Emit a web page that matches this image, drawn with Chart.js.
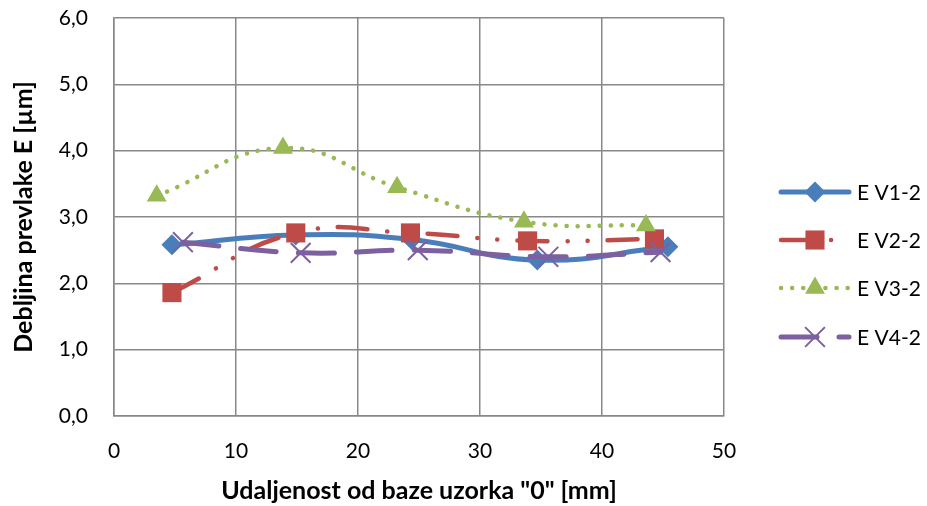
<!DOCTYPE html>
<html><head><meta charset="utf-8">
<script src="https://cdn.jsdelivr.net/npm/chart.js@4/dist/chart.umd.min.js"></script>
<style>html,body{margin:0;padding:0;background:#fff}#wrap{width:927px;height:506px}</style>
</head><body><div id="wrap"><canvas id="c" width="927" height="506"></canvas></div>
<script>
const seriesNames = ['E V1-2', 'E V2-2', 'E V3-2', 'E V4-2'];
const v1x = [4.75, 14.9, 24.4, 34.7, 45.4];
const v1y = [2.58, 2.73, 2.66, 2.35, 2.55];
const v2x = [4.75, 14.9, 24.3, 33.9, 44.3];
const v2y = [1.86, 2.76, 2.76, 2.64, 2.67];
const v3x = [3.5, 13.85, 23.2, 33.6, 43.6];
const v3y = [3.32, 4.04, 3.45, 2.93, 2.87];
const v4x = [5.65, 15.3, 24.9, 35.6, 44.8];
const v4y = [2.62, 2.46, 2.50, 2.40, 2.47];
const xTicks = [0, 10, 20, 30, 40, 50];
const yTickLabels = ['0,0', '1,0', '2,0', '3,0', '4,0', '5,0', '6,0'];
const xTitle = 'Udaljenost od baze uzorka "0" [mm]';
const yTitle = 'Debljina prevlake E [µm]';

const pts = (xs, ys) => xs.map((x, i) => ({x, y: ys[i]}));
const FONT = 'Lato, "Open Sans", sans-serif';

const styles = [
  {color: '#4A7EBB', width: 5, dash: [], point: 'rectRot', r: 10.5},
  {color: '#BE4B48', width: 4.5, dash: [30, 20, 0.1, 20, 0.1, 20], point: 'rect', r: 13.5},
  {color: '#98B954', width: 4.5, dash: [0.1, 11], point: 'triangle', r: 11.5},
  {color: '#7D60A0', width: 5, dash: [36, 22], point: 'crossRot', r: 14}
];
const xs = [v1x, v2x, v3x, v4x], ys = [v1y, v2y, v3y, v4y];

const datasets = seriesNames.map((name, i) => ({
  label: name,
  data: pts(xs[i], ys[i]),
  order: 4 - i,
  showLine: true,
  borderColor: styles[i].color,
  backgroundColor: styles[i].color,
  borderWidth: styles[i].width,
  borderDash: styles[i].dash,
  borderCapStyle: 'round',
  borderJoinStyle: 'round',
  tension: 0.45,
  pointStyle: styles[i].point,
  pointRadius: styles[i].r,
  pointHoverRadius: styles[i].r,
  pointBorderWidth: styles[i].point === 'crossRot' ? 2 : 0,
  pointBorderColor: styles[i].color,
  pointBackgroundColor: styles[i].color
}));

function drawMarker(ctx, type, x, y, r, color) {
  ctx.save();
  ctx.fillStyle = color; ctx.strokeStyle = color; ctx.setLineDash([]);
  ctx.beginPath();
  if (type === 'rectRot') {
    ctx.moveTo(x, y - r); ctx.lineTo(x + r, y); ctx.lineTo(x, y + r); ctx.lineTo(x - r, y); ctx.closePath(); ctx.fill();
  } else if (type === 'rect') {
    const s = Math.SQRT1_2 * r; ctx.rect(x - s, y - s, 2 * s, 2 * s); ctx.fill();
  } else if (type === 'triangle') {
    ctx.moveTo(x, y - r); ctx.lineTo(x + r * 0.866, y + r / 2); ctx.lineTo(x - r * 0.866, y + r / 2); ctx.closePath(); ctx.fill();
  } else if (type === 'crossRot') {
    const d = r * Math.SQRT1_2; ctx.lineWidth = 2;
    ctx.moveTo(x - d, y - d); ctx.lineTo(x + d, y + d); ctx.moveTo(x + d, y - d); ctx.lineTo(x - d, y + d); ctx.stroke();
  }
  ctx.restore();
}

const legendPlugin = {
  id: 'sideLegend',
  afterDraw(chart) {
    const ctx = chart.ctx;
    const ys0 = [192, 240, 288, 337];
    seriesNames.forEach((name, i) => {
      const st = styles[i], y = ys0[i];
      ctx.save();
      ctx.strokeStyle = st.color; ctx.lineWidth = st.width; ctx.lineCap = 'round';
      ctx.setLineDash(st.dash);
      ctx.beginPath(); ctx.moveTo(781, y); ctx.lineTo(849, y); ctx.stroke();
      ctx.restore();
      drawMarker(ctx, st.point, 815, y, st.r, st.color);
      ctx.save();
      ctx.fillStyle = '#000'; ctx.font = '21px ' + FONT; ctx.textBaseline = 'middle'; ctx.textAlign = 'left';
      ctx.fillText(name, 857, y + 1);
      ctx.restore();
    });
  }
};

new Chart(document.getElementById('c'), {
  type: 'scatter',
  data: {datasets},
  options: {
    responsive: false,
    animation: false,
    events: [],
    layout: {padding: {left: 0, right: 203, top: 18, bottom: 0}},
    plugins: {legend: {display: false}, tooltip: {enabled: false}},
    scales: {
      x: {
        type: 'linear', min: 0, max: 50,
        afterBuildTicks: s => { s.ticks = xTicks.map(v => ({value: v})); },
        afterFit: s => { s.height = 90; s.paddingLeft = 0; s.paddingRight = 0; },
        grid: {color: '#888', lineWidth: 1.5, drawTicks: false},
        border: {color: '#888', width: 1.5},
        ticks: {color: '#000', font: {family: FONT, size: 21}, padding: 23, maxRotation: 0},
        title: {display: true, text: xTitle, color: '#000', font: {family: FONT, size: 25, weight: 'bold'}, padding: {top: 4, bottom: 0}}
      },
      y: {
        type: 'linear', min: 0, max: 6,
        ticks: {stepSize: 1, color: '#000', font: {family: FONT, size: 21}, padding: 26,
          callback: (v, i) => yTickLabels[Math.round(v)]},
        afterFit: s => { s.width = 114; s.paddingTop = 10; s.paddingBottom = 0; },
        grid: {color: '#888', lineWidth: 1.5, drawTicks: false},
        border: {color: '#888', width: 1.5},
        title: {display: true, text: yTitle, color: '#000', font: {family: FONT, size: 25, weight: 'bold'}, padding: {bottom: 0, top: 9}}
      }
    }
  },
  plugins: [legendPlugin]
});
</script></body></html>
